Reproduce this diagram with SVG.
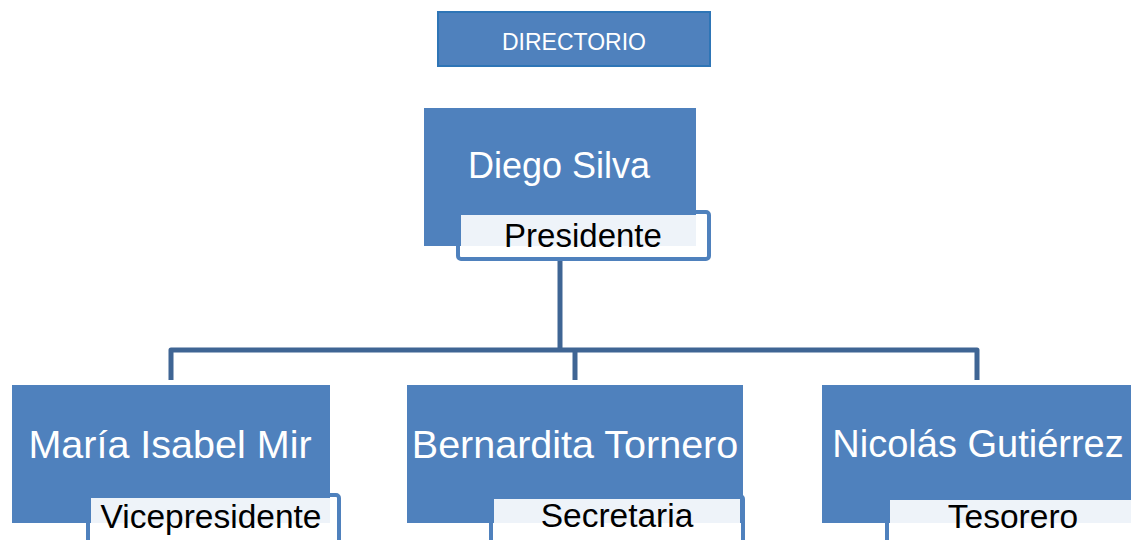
<svg xmlns="http://www.w3.org/2000/svg" width="1131" height="540" viewBox="0 0 1131 540">
<style>
.box{fill:#4F81BD}
.outline{fill:#FFFFFF;stroke:#4F81BD;stroke-width:4}
.tint{fill:#FFFFFF;fill-opacity:0.9}
.name{font-family:"Liberation Sans",Arial,sans-serif;font-size:39.5px;fill:#FFFFFF;text-anchor:middle}
.title{font-family:"Liberation Sans",Arial,sans-serif;font-size:33.5px;fill:#000000;text-anchor:middle}
.conn{fill:none;stroke:#3F6594;stroke-width:5;stroke-linejoin:round}
</style>
<rect width="1131" height="540" fill="#FFFFFF"/>
<g id="directorio">
<rect x="438" y="12" width="272" height="54" fill="#4F81BD" stroke="#2E75B6" stroke-width="2"/>
<text x="574" y="50" font-family="Liberation Sans,Arial,sans-serif" font-size="23" fill="#FFFFFF" text-anchor="middle">DIRECTORIO</text>
</g>
<g id="connectors">
<path class="conn" d="M560,252 V350"/>
<path class="conn" d="M171,380 V350 H977 V380"/>
<path class="conn" d="M575,350 V380"/>
</g>
<g id="diego">
<rect class="outline" x="458" y="212" width="251" height="47" rx="3"/>
<rect class="box" x="424" y="108" width="272" height="138"/>
<rect class="tint" x="461" y="215" width="245" height="41"/>
<text class="name" x="559" y="178" style="font-size:36px">Diego Silva</text>
<text class="title" x="583" y="247" style="font-size:33px">Presidente</text>
</g>
<g id="maria">
<rect class="outline" x="88" y="495" width="251" height="52" rx="3"/>
<rect class="box" x="12" y="385" width="318" height="138"/>
<rect class="tint" x="91" y="498" width="245" height="50"/>
<text class="name" x="170" y="458">María Isabel Mir</text>
<text class="title" x="211" y="528">Vicepresidente</text>
</g>
<g id="bernardita">
<rect class="outline" x="491" y="496" width="252" height="52" rx="3"/>
<rect class="box" x="407" y="385" width="336" height="138"/>
<rect class="tint" x="494" y="499" width="246" height="50"/>
<text class="name" x="575" y="458">Bernardita Tornero</text>
<text class="title" x="617" y="527">Secretaria</text>
</g>
<g id="nicolas">
<rect class="outline" x="887" y="497" width="252" height="52" rx="3"/>
<rect class="box" x="822" y="385" width="312" height="138"/>
<rect class="tint" x="890" y="500" width="246" height="50"/>
<text class="name" x="978" y="457" style="font-size:38px">Nicolás Gutiérrez</text>
<text class="title" x="1013" y="528">Tesorero</text>
</g>
</svg>
